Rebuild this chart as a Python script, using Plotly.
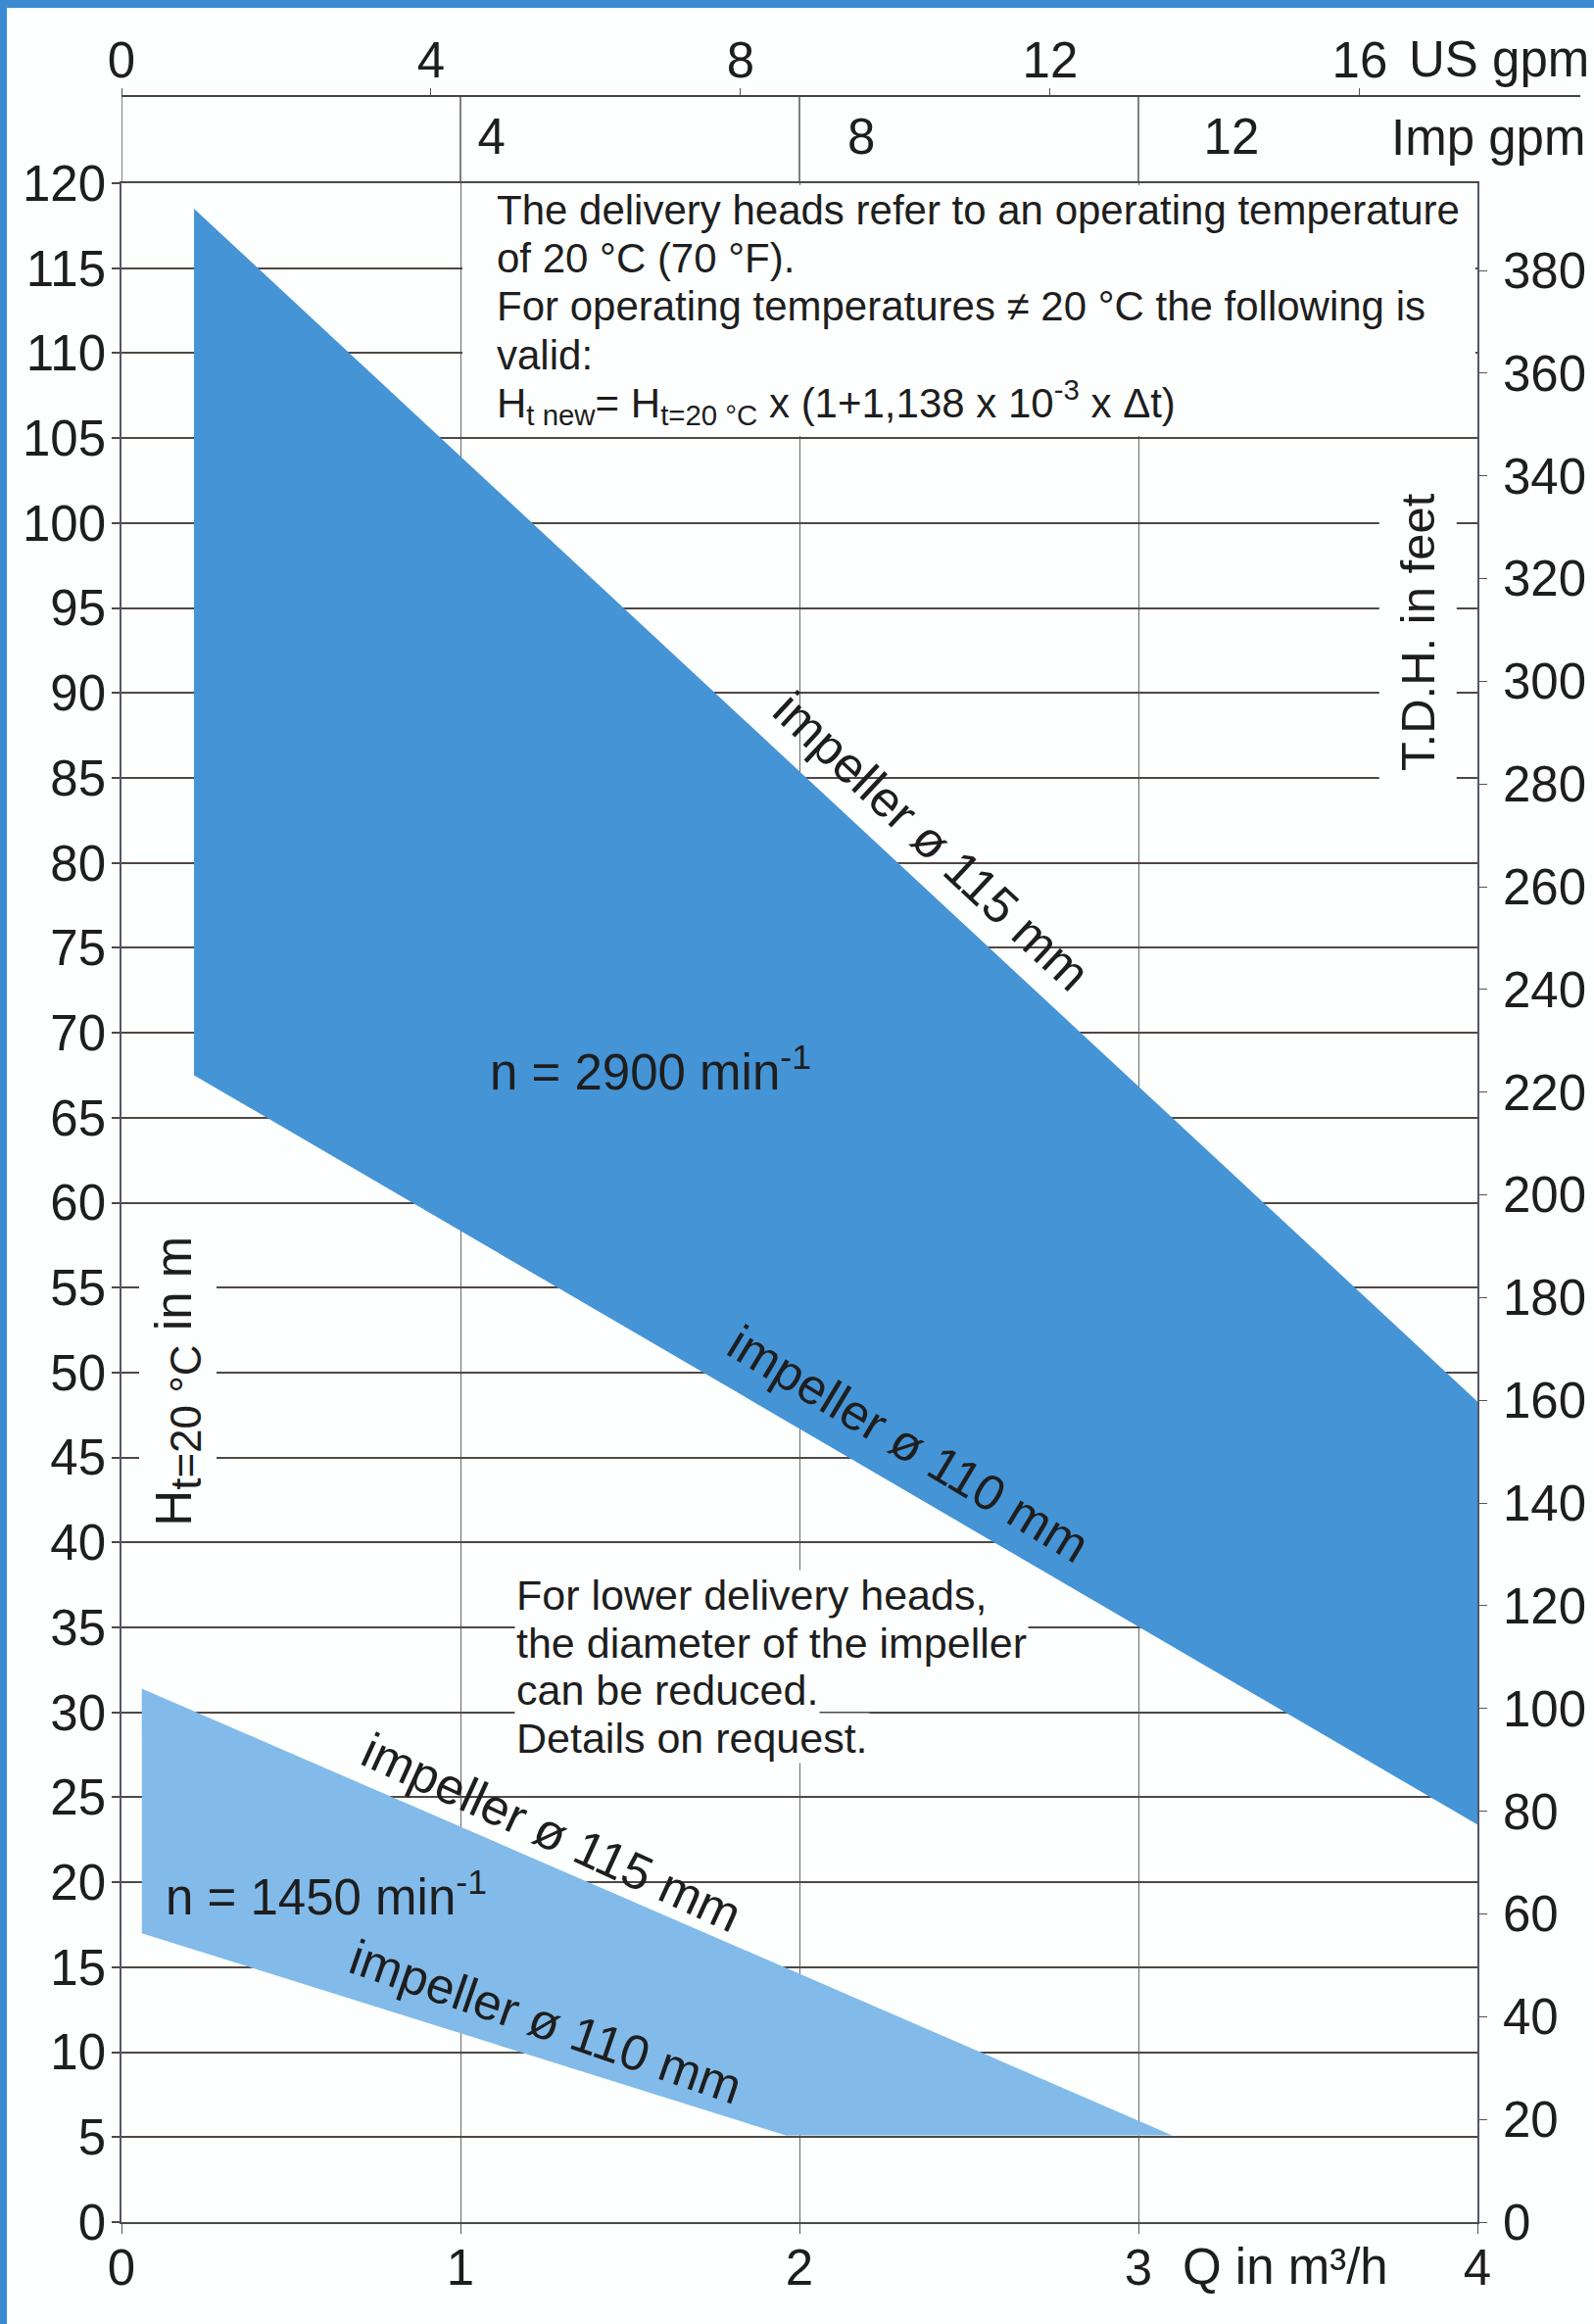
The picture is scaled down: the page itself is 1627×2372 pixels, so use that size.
import plotly.graph_objects as go

# ---------------- data ----------------
# n = 2900 min-1 operating field (polygon corners, Q in m3/h, H in m)
q_2900 = [0.214, 4.0, 4.0, 0.214]
h_2900 = [118.5, 48.3, 23.4, 67.5]

# n = 1450 min-1 operating field
q_1450 = [0.06, 3.10, 1.96, 0.06]
h_1450 = [31.4, 5.1, 5.1, 17.0]

# axis ticks
q_ticks = [0, 1, 2, 3, 4]
h_ticks_m = list(range(0, 121, 5))
h_ticks_ft = list(range(0, 381, 20))
us_gpm_ticks = [0, 4, 8, 12, 16]
imp_gpm_ticks = [4, 8, 12]

# axis ranges
q_range = [0, 4]
h_range = [0, 120]
ft_range = [0, 397]          # right axis (feet) scaled as drawn in the reference
us_gpm_range = [0, 17.52]
imp_gpm_range = [0, 14.66]

# ---------------- layout geometry ----------------
W, H = 1627, 2372
ML, MR, MT, MB = 124, 119, 40, 104
PH = H - MT - MB


def py(ypix):
    return (H - MB - ypix) / PH


def px(xpix):
    return (xpix - ML) / (W - ML - MR)


D_TOP = py(187)
P_US = py(98)

FONT = "Liberation Sans, Arial, Helvetica, sans-serif"
TXT = "#1e1e1e"
GRID = "#4f4843"
BIG_BLUE = "#4594d6"
LIGHT_BLUE = "#82bbea"

fig = go.Figure()

fig.add_trace(go.Scatter(
    x=q_2900 + [q_2900[0]], y=h_2900 + [h_2900[0]], fill="toself",
    fillcolor=BIG_BLUE, mode="lines", line=dict(width=0, color=BIG_BLUE),
    hoverinfo="skip", showlegend=False))

fig.add_trace(go.Scatter(
    x=q_1450 + [q_1450[0]], y=h_1450 + [h_1450[0]], fill="toself",
    fillcolor=LIGHT_BLUE, mode="lines", line=dict(width=0, color=LIGHT_BLUE),
    hoverinfo="skip", showlegend=False))

# dummy traces so that the secondary axes are drawn
fig.add_trace(go.Scatter(x=[0], y=[0], yaxis="y2", mode="markers",
                         marker=dict(opacity=0), hoverinfo="skip", showlegend=False))
fig.add_trace(go.Scatter(x=[0], y=[0], xaxis="x2", mode="markers",
                         marker=dict(opacity=0), hoverinfo="skip", showlegend=False))
fig.add_trace(go.Scatter(x=[0], y=[0], xaxis="x3", mode="markers",
                         marker=dict(opacity=0), hoverinfo="skip", showlegend=False))

tickfont = dict(family=FONT, size=51, color=TXT)

fig.update_layout(
    width=W, height=H, autosize=False,
    margin=dict(l=ML, r=MR, t=MT, b=MB),
    paper_bgcolor="#fdfefe", plot_bgcolor="#fdfefe",
    showlegend=False,
    xaxis=dict(domain=[0, 1], range=q_range, tickvals=q_ticks, automargin=False,
               ticks="outside", ticklen=10, tickcolor="#555", tickwidth=1.2,
               showgrid=True, gridcolor="#6a6a6a", gridwidth=1.3,
               showline=True, linecolor="#4a4a4a", linewidth=2, mirror=True,
               zeroline=False, tickfont=tickfont, ticklabelstandoff=-9),
    yaxis=dict(domain=[0, D_TOP], range=h_range, tickvals=h_ticks_m, automargin=False,
               ticks="outside", ticklen=8, tickcolor=GRID, tickwidth=1.6,
               showgrid=True, gridcolor=GRID, gridwidth=1.8,
               showline=True, linecolor="#55556a", linewidth=1.5,
               zeroline=False, tickfont=tickfont, ticklabelstandoff=-4),
    yaxis2=dict(overlaying="y", side="right", anchor="x", range=ft_range,
                automargin=False,
                tickvals=h_ticks_ft, ticks="outside", ticklen=8, tickcolor="#555",
                tickwidth=1.4, showgrid=False, showline=True, linecolor="#55556a",
                linewidth=1.5, zeroline=False, tickfont=tickfont,
                ticklabelstandoff=6),
    xaxis2=dict(overlaying="x", side="top", anchor="free", position=P_US,
                automargin=False,
                range=us_gpm_range, tickvals=us_gpm_ticks, ticks="outside",
                ticklen=8, tickcolor="#555", tickwidth=1.4, showgrid=False,
                showline=False, zeroline=False, tickfont=tickfont,
                ticklabelstandoff=-9),
    xaxis3=dict(overlaying="x", side="top", anchor="free", position=D_TOP,
                automargin=False,
                range=imp_gpm_range, tickvals=imp_gpm_ticks, ticks="outside",
                ticklen=6, tickcolor="rgba(0,0,0,0)", showgrid=False,
                showline=False, zeroline=False, tickfont=tickfont,
                ticklabelstandoff=4),
)

shapes = []
# vertical lines extending into the top gpm band
for q in q_ticks[:-1]:
    shapes.append(dict(type="line", xref="x", yref="paper", x0=q, x1=q,
                       y0=D_TOP, y1=P_US, line=dict(color="#4a4a4a", width=1.4)))
# US gpm axis line
shapes.append(dict(type="line", xref="paper", yref="paper", x0=0, x1=px(1613),
                   y0=P_US, y1=P_US, line=dict(color="#4a4040", width=2.2)))
# white note box at the top
shapes.append(dict(type="rect", xref="x", yref="y", x0=1.006, x1=3.994,
                   y0=105.12, y1=119.88, fillcolor="#fdfefe",
                   line=dict(width=0), layer="above"))
# blue page border (top and left)
shapes.append(dict(type="rect", xref="paper", yref="paper", x0=px(0), x1=px(7),
                   y0=py(H), y1=py(0), fillcolor="#3b8bd2", line=dict(width=0)))
shapes.append(dict(type="rect", xref="paper", yref="paper", x0=px(0), x1=px(W),
                   y0=py(8), y1=py(0), fillcolor="#3b8bd2", line=dict(width=0)))
fig.update_layout(shapes=shapes)

ann = []
note_font = dict(family=FONT, size=42, color=TXT)
low_font = dict(family=FONT, size=43, color=TXT)
lab_font = dict(family=FONT, size=51, color=TXT)

top_note = [
    "The delivery heads refer to an operating temperature",
    "of 20 °C (70 °F).",
    "For operating temperatures ≠ 20 °C the following is",
    "valid:",
    "H<sub>t new</sub>= H<sub>t=20 °C</sub> x (1+1,138 x 10<sup>-3</sup> x Δt)",
]
top_note_y = [118.4, 115.6, 112.75, 109.9, 107.1]
for t, yv in zip(top_note, top_note_y):
    ann.append(dict(x=1.10, y=yv, xref="x", yref="y", text=t, showarrow=False,
                    xanchor="left", yanchor="middle", font=note_font))

low_note = [
    "For lower delivery heads,",
    "the diameter of the impeller",
    "can be reduced.",
    "Details on request.",
]
low_note_y = [36.9, 34.1, 31.3, 28.5]
for t, yv in zip(low_note, low_note_y):
    ann.append(dict(x=1.158, y=yv, xref="x", yref="y", text=t, showarrow=False,
                    xanchor="left", yanchor="middle", font=low_font,
                    bgcolor="#fdfefe"))

# band labels
ann += [
    dict(x=2.39, y=81.3, text="impeller ø 115 mm", textangle=43),
    dict(x=2.32, y=45.8, text="impeller ø 110 mm", textangle=31),
    dict(x=1.56, y=67.9, text="n = 2900 min<sup>-1</sup>", textangle=0),
    dict(x=1.27, y=22.95, text="impeller ø 115 mm", textangle=24.5),
    dict(x=1.25, y=11.8, text="impeller ø 110 mm", textangle=19),
    dict(x=0.605, y=19.3, text="n = 1450 min<sup>-1</sup>", textangle=0),
]
for a in ann[-6:]:
    a.update(xref="x", yref="y", showarrow=False, font=lab_font,
             xanchor="center", yanchor="middle")

# axis titles
ann.append(dict(x=3.824, y=93.6, xref="x", yref="y", text="T.D.H. in feet",
                textangle=-90, showarrow=False, font=dict(family=FONT, size=49, color=TXT),
                bgcolor="#fdfefe", borderpad=12))
ann.append(dict(x=0.165, y=49.5, xref="x", yref="y",
                text="H<sub><span style=\"font-size:44px\">t=20 °C</span></sub> in m",
                textangle=-90, showarrow=False,
                font=dict(family=FONT, size=51, color=TXT), bgcolor="#fdfefe",
                borderpad=6))
ann.append(dict(x=px(1436), y=py(60), xref="paper", yref="paper", text="US gpm",
                showarrow=False, xanchor="left", yanchor="middle", font=lab_font))
ann.append(dict(x=px(1418), y=py(140), xref="paper", yref="paper", text="Imp gpm",
                showarrow=False, xanchor="left", yanchor="middle", font=lab_font))
ann.append(dict(x=px(1205), y=py(2313), xref="paper", yref="paper", text="Q in m³/h",
                showarrow=False, xanchor="left", yanchor="middle", font=lab_font))

fig.update_layout(annotations=ann)

fig.write_html(
    "out.html",
    config={"responsive": False, "displayModeBar": False},
    post_script=("document.body.style.margin='0';"
                 "document.documentElement.style.overflow='hidden';"
                 "document.body.style.overflow='hidden';"),
)
